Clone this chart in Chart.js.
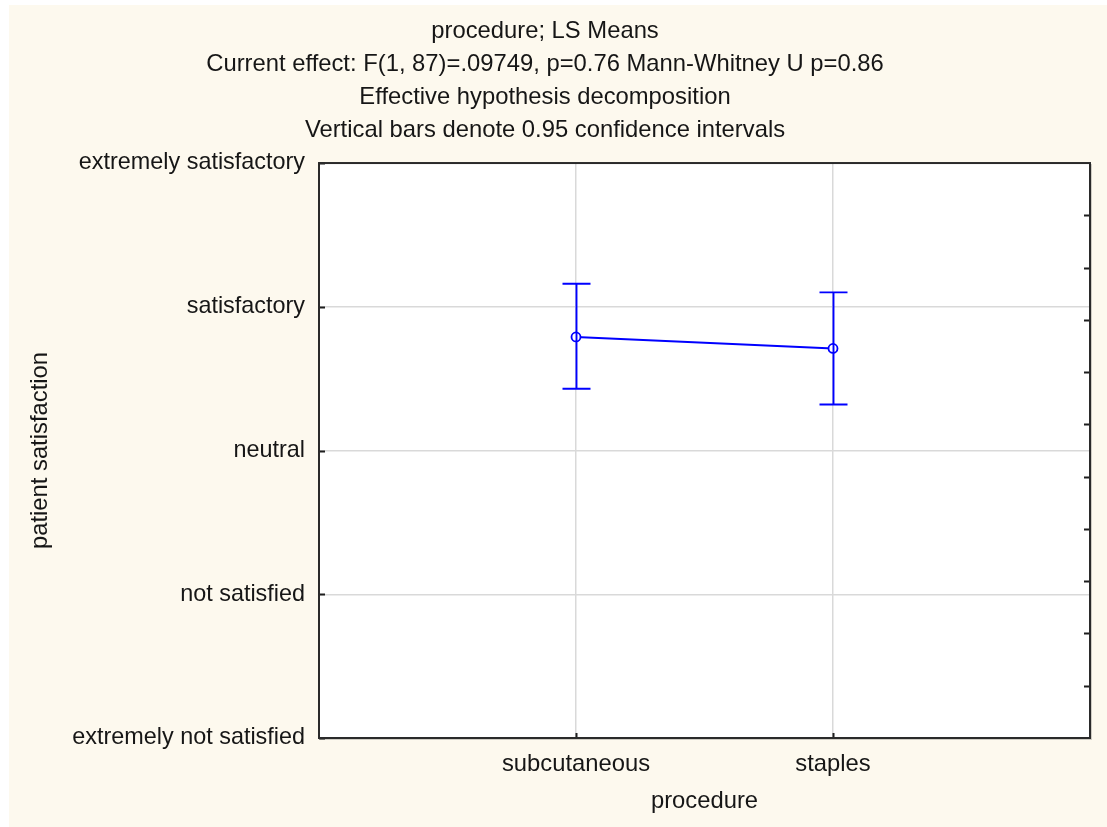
<!DOCTYPE html>
<html>
<head>
<meta charset="utf-8">
<title>procedure; LS Means</title>
<script src="https://cdn.jsdelivr.net/npm/chart.js@4/dist/chart.umd.min.js"></script>
<style>
  html, body { margin: 0; padding: 0; background: #ffffff; }
  #wrap { width: 1107px; height: 827px; }
</style>
</head>
<body>
<div id="wrap"><canvas id="c" width="1107" height="827"></canvas></div>
<script>
// Categories on the x axis and where they sit on the 0..3 procedure scale
const procedures = ['subcutaneous', 'staples'];
const procedurePositions = [1, 2];

// LS means with 0.95 confidence limits (satisfaction score 1..5)
const lsMeans = [3.79, 3.71];
const ciLower = [3.43, 3.32];
const ciUpper = [4.16, 4.10];

// Satisfaction scale labels for scores 1..5
const satisfactionValues = [1, 2, 3, 4, 5];
const satisfactionLevels = [
  'extremely not satisfied',
  'not satisfied',
  'neutral',
  'satisfactory',
  'extremely satisfactory'
];

// Minor tick marks along the right edge (0..11 scale)
const minorTickValues = [1, 2, 3, 4, 5, 6, 7, 8, 9, 10];

const titleLines = [
  'procedure; LS Means',
  'Current effect: F(1, 87)=.09749, p=0.76 Mann-Whitney U p=0.86',
  'Effective hypothesis decomposition',
  'Vertical bars denote 0.95 confidence intervals'
];

const FONT = 'Liberation Sans, Arial, sans-serif';
const FONT_SIZE = 23.8;
const TICK_Y_SIZE = 23.4;
const TEXT = '#161616';
const BLUE = '#0000ff';
const GRID = '#d9d9d9';

const framePlugin = {
  id: 'frame',
  beforeDraw(chart) {
    const { ctx, chartArea: a } = chart;
    ctx.save();
    ctx.fillStyle = '#fdf9ee';
    ctx.fillRect(9, 5, chart.width - 9, chart.height - 5);
    ctx.fillStyle = '#ffffff';
    ctx.fillRect(a.left, a.top, a.right - a.left, a.bottom - a.top);
    ctx.restore();
  },
  afterDatasetsDraw(chart) {
    const { ctx, scales: { x, y } } = chart;
    ctx.save();
    ctx.strokeStyle = BLUE;
    ctx.lineWidth = 1.9;
    procedurePositions.forEach((p, i) => {
      const px = Math.round(x.getPixelForValue(p)) + 0.5;
      const yl = y.getPixelForValue(ciLower[i]);
      const yu = y.getPixelForValue(ciUpper[i]);
      ctx.beginPath();
      ctx.moveTo(px, yu); ctx.lineTo(px, yl);
      ctx.moveTo(px - 14, yu); ctx.lineTo(px + 14, yu);
      ctx.moveTo(px - 14, yl); ctx.lineTo(px + 14, yl);
      ctx.stroke();
    });
    ctx.restore();
  },
  afterDraw(chart) {
    const { ctx, chartArea: a, scales: { x, y, yr } } = chart;
    ctx.save();
    ctx.strokeStyle = '#1e1e1e';
    ctx.lineWidth = 2;
    ctx.beginPath();
    satisfactionValues.forEach(v => {
      const py = Math.round(y.getPixelForValue(v)) + 0.5;
      ctx.moveTo(a.left, py); ctx.lineTo(a.left + 6, py);
    });
    procedurePositions.forEach(v => {
      const px = Math.round(x.getPixelForValue(v)) + 0.5;
      ctx.moveTo(px, a.bottom); ctx.lineTo(px, a.bottom - 5);
    });
    minorTickValues.forEach(v => {
      const py = Math.round(yr.getPixelForValue(v)) + 0.5;
      ctx.moveTo(a.right, py); ctx.lineTo(a.right - 6, py);
    });
    ctx.stroke();
    ctx.strokeStyle = '#2a2a2a';
    ctx.lineWidth = 2;
    ctx.strokeRect(a.left, a.top, a.right - a.left, a.bottom - a.top);
    ctx.strokeStyle = 'rgba(0,0,0,0.18)';
    ctx.lineWidth = 1;
    ctx.beginPath();
    ctx.moveTo(a.right + 1.5, a.top + 1); ctx.lineTo(a.right + 1.5, a.bottom + 1.5); ctx.lineTo(a.left + 1, a.bottom + 1.5);
    ctx.stroke();
    ctx.restore();
  }
};

new Chart(document.getElementById('c'), {
  type: 'line',
  data: {
    datasets: [{
      data: procedurePositions.map((p, i) => ({ x: p, y: lsMeans[i] })),
      borderColor: BLUE,
      borderWidth: 1.9,
      pointRadius: 4.5,
      pointBorderWidth: 1.8,
      pointBorderColor: BLUE,
      pointBackgroundColor: '#ffffff',
      tension: 0,
      fill: false
    }]
  },
  options: {
    responsive: false,
    animation: false,
    layout: { padding: { left: 0, right: 17, top: 0, bottom: 0 } },
    plugins: {
      legend: { display: false },
      tooltip: { enabled: false },
      title: {
        display: true,
        text: titleLines,
        color: TEXT,
        font: { family: FONT, size: FONT_SIZE, weight: 'normal', lineHeight: 1.387 },
        padding: { top: 15, bottom: 16 }
      }
    },
    scales: {
      x: {
        type: 'linear',
        min: 0,
        max: 3,
        afterBuildTicks: s => { s.ticks = procedurePositions.map(v => ({ value: v })); },
        afterFit: s => { s.height = 89; },
        ticks: {
          callback: v => procedures[procedurePositions.indexOf(v)] ?? '',
          color: TEXT,
          font: { family: FONT, size: FONT_SIZE },
          padding: 12.5,
          maxRotation: 0
        },
        grid: { color: GRID, lineWidth: 1.5, drawTicks: false },
        border: { display: false },
        title: {
          display: true,
          text: 'procedure',
          color: TEXT,
          font: { family: FONT, size: FONT_SIZE },
          padding: { top: 4, bottom: 11 }
        }
      },
      y: {
        type: 'linear',
        min: 1,
        max: 5,
        afterBuildTicks: s => { s.ticks = satisfactionValues.map(v => ({ value: v })); },
        afterFit: s => { s.width = 319; },
        ticks: {
          callback: v => satisfactionLevels[satisfactionValues.indexOf(v)] ?? '',
          color: TEXT,
          font: { family: FONT, size: TICK_Y_SIZE },
          padding: 14
        },
        grid: { color: GRID, lineWidth: 1.5, drawTicks: false },
        border: { display: false },
        title: {
          display: true,
          text: 'patient satisfaction',
          color: TEXT,
          font: { family: FONT, size: FONT_SIZE },
          padding: { top: 25.7, bottom: 0 }
        }
      },
      yr: {
        type: 'linear',
        position: 'right',
        min: 0,
        max: 11,
        afterBuildTicks: s => { s.ticks = minorTickValues.map(v => ({ value: v })); },
        afterFit: s => { s.width = 0; },
        ticks: { display: false },
        grid: { display: false, drawTicks: false },
        border: { display: false }
      }
    }
  },
  plugins: [framePlugin]
});
</script>
</body>
</html>
